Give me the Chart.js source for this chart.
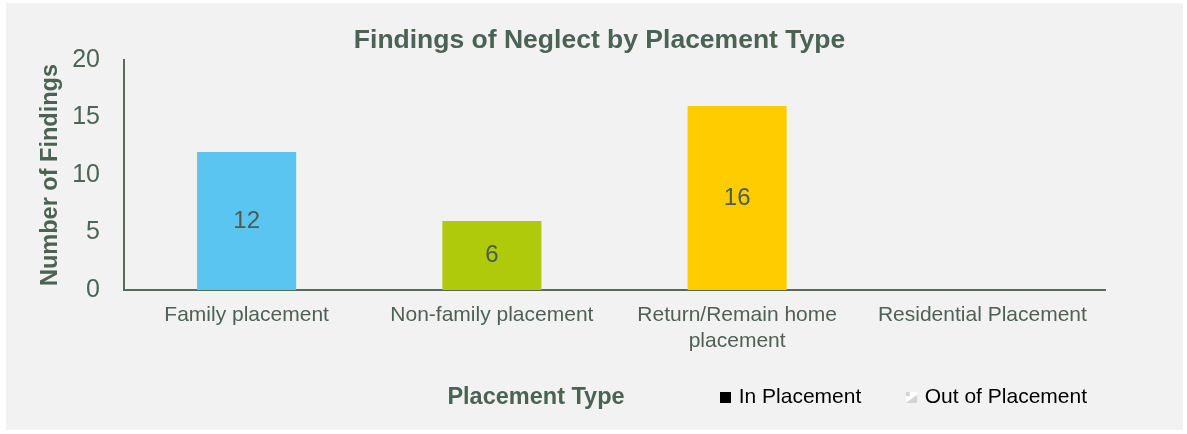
<!DOCTYPE html>
<html>
<head>
<meta charset="utf-8">
<script src="https://cdn.jsdelivr.net/npm/chart.js@4.4.1/dist/chart.umd.min.js"></script>
<style>
  body { margin: 0; background: #ffffff; }
  #panel { position: absolute; left: 6px; top: 3px; width: 1177px; height: 427px; background: #f2f2f2; }
  #chart { display: block; }
</style>
</head>
<body>
<div id="panel"><canvas id="chart" width="1177" height="427"></canvas></div>
<script>
const categories = ['Family placement', 'Non-family placement', ['Return/Remain home', 'placement'], 'Residential Placement'];
const inPlacement = [12, 6, 16, 0];
const outOfPlacement = [0, 0, 0, 0];
const seriesNames = ['In Placement', 'Out of Placement'];
const barColors = ['#5bc5f2', '#afca0b', '#ffcc00', '#a5a5a5'];
const yMin = 0;
const yMax = 20;
const yStep = 5;
const chartTitle = 'Findings of Neglect by Placement Type';
const yTitle = 'Number of Findings';
const xTitle = 'Placement Type';

const fontFamily = "'Liberation Sans', Arial, sans-serif";
const textColor = '#4a6354';
const labelColor = '#4f6157';
const axisColor = '#58695f';

Chart.defaults.font.family = fontFamily;

// little square markers for the legend
function makeMark(fill, shade) {
  const c = document.createElement('canvas');
  c.width = 11;
  c.height = 11;
  const g = c.getContext('2d');
  g.fillStyle = fill;
  g.fillRect(0, 0, 11, 11);
  if (shade) {
    g.fillStyle = shade;
    g.beginPath();
    g.moveTo(0, 11);
    g.lineTo(11, 11);
    g.lineTo(11, 3);
    g.closePath();
    g.fill();
    g.fillRect(0, 0, 4, 4);
  }
  return c;
}
const legendMarks = [makeMark('#000000'), makeMark('#ffffff', '#d4d4d4')];

// value in the middle of each bar
const barLabels = {
  id: 'barLabels',
  afterDatasetsDraw(chart) {
    const ctx = chart.ctx;
    const meta = chart.getDatasetMeta(0);
    ctx.save();
    ctx.font = '24px ' + fontFamily;
    ctx.fillStyle = '#4b5d52';
    ctx.textAlign = 'center';
    ctx.textBaseline = 'middle';
    meta.data.forEach((bar, i) => {
      const v = inPlacement[i];
      if (!v) return;
      ctx.fillText(String(v), bar.x, (bar.y + bar.base) / 2);
    });
    ctx.restore();
  }
};

// x axis title sits on the legend row, left of the legend
const xTitlePlugin = {
  id: 'xTitlePlugin',
  afterLayout(chart) {
    // let the two-line category label run into the legend's empty top band
    chart.scales.x.bottom = chart.legend.bottom;
  },
  afterDraw(chart) {
    const ctx = chart.ctx;
    const lg = chart.legend;
    const y = lg.top + lg.options.labels.padding + lg.options.labels.font.size / 2;
    ctx.save();
    ctx.font = 'bold 23.5px ' + fontFamily;
    ctx.fillStyle = textColor;
    ctx.textAlign = 'center';
    ctx.textBaseline = 'middle';
    ctx.fillText(xTitle, 530, y);
    ctx.restore();
  }
};

new Chart(document.getElementById('chart'), {
  type: 'bar',
  data: {
    labels: categories,
    datasets: [
      {
        label: seriesNames[0],
        data: inPlacement,
        backgroundColor: barColors,
        categoryPercentage: 1,
        barPercentage: 0.404,
        yAxisID: 'y'
      },
      {
        label: seriesNames[1],
        data: outOfPlacement,
        backgroundColor: '#ffffff',
        categoryPercentage: 1,
        barPercentage: 0.404,
        yAxisID: 'y'
      }
    ]
  },
  options: {
    responsive: false,
    animation: false,
    layout: { padding: { left: 59, right: 49, top: 0, bottom: 12 } },
    plugins: {
      title: {
        display: true,
        text: chartTitle,
        color: textColor,
        font: { size: 26.5, weight: 'bold' },
        padding: { top: 22, bottom: 3.2 }
      },
      legend: {
        position: 'bottom',
        align: 'end',
        labels: {
          usePointStyle: true,
          pointStyleWidth: 6,
          boxHeight: 11,
          padding: 47,
          color: '#4d6456',
          font: { size: 21 },
          generateLabels: chart => chart.data.datasets.map((ds, i) => ({
            text: ds.label,
            pointStyle: legendMarks[i],
            fillStyle: '#000000',
            strokeStyle: 'transparent',
            lineWidth: 0,
            hidden: false,
            datasetIndex: i
          }))
        }
      },
      tooltip: { enabled: false }
    },
    scales: {
      x: {
        stacked: true,
        grid: { display: false, drawTicks: false },
        border: { color: axisColor, width: 2 },
        ticks: { color: labelColor, font: { size: 21 }, padding: 13, maxRotation: 0, autoSkip: false },
        afterFit: s => { s.height = 50; }
      },
      y: {
        stacked: true,
        min: yMin,
        max: yMax,
        ticks: { stepSize: yStep, color: '#4d6456', font: { size: 25 }, padding: 24 },
        grid: { display: false, drawTicks: false },
        border: { color: axisColor, width: 2 },
        title: {
          display: true,
          text: yTitle,
          color: textColor,
          font: { size: 23.5, weight: 'bold' },
          padding: { top: -29, bottom: 0 }
        },
        afterFit: s => { s.width = 59; }
      },
      yRight: {
        position: 'right',
        display: true,
        ticks: { display: false },
        grid: { display: false, drawTicks: false },
        border: { display: false },
        afterFit: s => { s.width = 29; }
      }
    }
  },
  plugins: [barLabels, xTitlePlugin]
});
</script>
</body>
</html>
